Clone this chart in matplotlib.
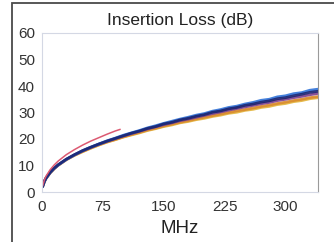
import matplotlib
matplotlib.use("Agg")
import matplotlib.pyplot as plt
from matplotlib.patches import Rectangle

plt.rcParams['font.family'] = ['Liberation Sans', 'DejaVu Sans']

# Frecuencias (MHz) comunes a todas las medidas
freq = [1, 3, 5, 10, 15, 20, 30, 40, 50, 60, 70, 80, 90, 100, 110, 120, 130, 140,
        150, 160, 170, 180, 190, 200, 210, 220, 230, 240, 250, 260, 270, 280, 290,
        300, 310, 320, 330, 340]

il_navy = [2.3, 4.1, 5.3, 7.4, 9.0, 10.3, 12.4, 14.1, 15.6, 16.9, 18.1, 19.2, 20.2,
           21.2, 22.2, 23.0, 24.0, 24.7, 25.7, 26.3, 27.2, 27.8, 28.6, 29.2, 30.1,
           30.6, 31.4, 31.9, 32.7, 33.2, 33.9, 34.4, 35.2, 35.6, 36.3, 36.9, 37.6, 38.0]
il_blue = [2.2, 4.0, 5.2, 7.3, 8.9, 10.2, 12.3, 14.0, 15.6, 16.9, 18.1, 19.3, 20.3,
           21.4, 22.3, 23.2, 24.2, 25.0, 25.9, 26.7, 27.5, 28.2, 29.0, 29.6, 30.5,
           31.1, 31.9, 32.4, 33.2, 33.8, 34.6, 35.0, 35.9, 36.3, 37.1, 37.5, 38.4, 38.8]
il_purple = [2.4, 4.1, 5.2, 7.3, 8.9, 10.2, 12.3, 14.0, 15.5, 16.8, 18.0, 19.1, 20.1,
             21.1, 22.0, 22.9, 23.8, 24.6, 25.4, 26.1, 26.9, 27.5, 28.2, 28.9, 29.6,
             30.2, 30.9, 31.5, 32.1, 32.7, 33.3, 33.8, 34.5, 35.0, 35.6, 36.1, 36.7, 37.2]
il_orange = [2.3, 4.0, 5.2, 7.2, 8.8, 10.1, 12.2, 13.9, 15.3, 16.6, 17.8, 18.9, 19.8,
             20.8, 21.7, 22.5, 23.4, 24.1, 24.9, 25.6, 26.3, 26.9, 27.6, 28.2, 28.8,
             29.4, 30.0, 30.6, 31.1, 31.7, 32.3, 32.8, 33.4, 33.9, 34.5, 35.0, 35.6, 36.0]
il_yellow = [2.2, 3.9, 5.1, 7.2, 8.8, 10.1, 12.2, 13.8, 15.2, 16.5, 17.7, 18.8, 19.7,
             20.7, 21.5, 22.3, 23.2, 23.9, 24.7, 25.3, 26.1, 26.6, 27.3, 27.8, 28.5,
             29.0, 29.7, 30.1, 30.8, 31.2, 31.9, 32.3, 33.0, 33.4, 34.1, 34.5, 35.2, 35.6]

# Curva límite (solo hasta ~100 MHz)
freq_lim = [1, 3, 5, 10, 15, 20, 30, 40, 50, 60, 70, 80, 90, 96]
il_lim = [2.5, 4.6, 6.0, 8.4, 10.2, 11.7, 14.1, 16.0, 17.7, 19.2, 20.5, 21.8, 23.0, 23.6]

xticks = [0, 75, 150, 225, 300]
yticks = [0, 10, 20, 30, 40, 50, 60]

fig = plt.figure(figsize=(3.34, 2.42), dpi=100)
# Marco exterior de la imagen
fig.patches.append(Rectangle((12.5 / 334, -0.05), 1.2, 1 - 3.5 / 242 + 0.05,
                             transform=fig.transFigure, fill=False,
                             edgecolor='#4a4a4a', linewidth=1.3))
ax = fig.add_axes([42 / 334, 1 - 192 / 242, 276 / 334, 159 / 242])

series = [
    (il_yellow, '#e3b43a'),
    (il_orange, '#d98b2e'),
    (il_purple, '#7d3f8c'),
    (il_blue, '#2f72d8'),
    (il_navy, '#1b2470'),
]
for vals, col in series:
    ax.plot(freq, vals, color=col, linewidth=2.0, alpha=0.9)
ax.plot(freq_lim, il_lim, color='#dc5a72', linewidth=1.1)

ax.set_xlim(0, 340)
ax.set_ylim(0, 60)
ax.set_xticks(xticks)
ax.set_yticks(yticks)
ax.tick_params(length=0, labelsize=11, labelcolor='#333333', pad=6)
ax.tick_params(axis='y', pad=5)
for s in ['left', 'bottom', 'top']:
    ax.spines[s].set_color('#d4d8e4')
ax.spines['right'].set_color('#9a9a9a')

ax.set_title("Insertion Loss (dB)", fontsize=12.5, color='#222222', pad=6)
ax.set_xlabel("MHz", fontsize=13.5, color='#222222', labelpad=4)

fig.savefig("out.png", dpi=100)
